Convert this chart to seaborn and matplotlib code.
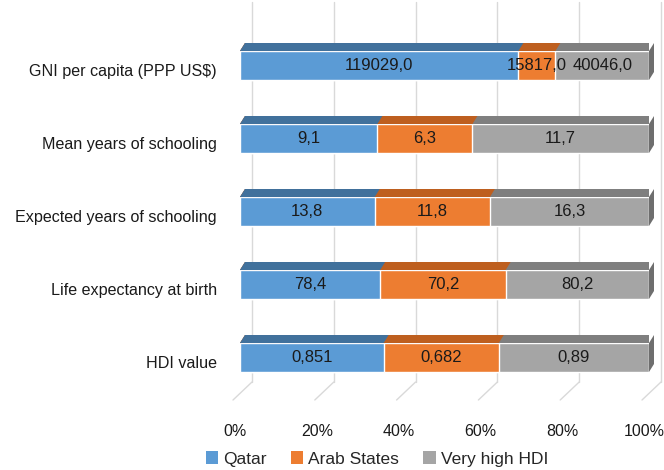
import numpy as np
import pandas as pd
import matplotlib
matplotlib.use("Agg")
import matplotlib.pyplot as plt
import matplotlib.transforms as mtransforms
from matplotlib.patches import Polygon, Patch
import seaborn as sns


# =====================
# DATA
# =====================

indicators = [
    "GNI per capita (PPP US$)",
    "Mean years of schooling",
    "Expected years of schooling",
    "Life expectancy at birth",
    "HDI value",
]
qatar = [119029.0, 9.1, 13.8, 78.4, 0.851]
arab_states = [15817.0, 6.3, 11.8, 70.2, 0.682]
very_high_hdi = [40046.0, 11.7, 16.3, 80.2, 0.89]
series_names = ["Qatar", "Arab States", "Very high HDI"]
x_ticks = [0, 20, 40, 60, 80, 100]

front_colors = ["#5B9BD5", "#ED7D31", "#A5A5A5"]
top_colors = ["#41719C", "#BE5F1F", "#7F7F7F"]
side_color = "#6E6E6E"
grid_color = "#D9D9D9"


# =====================
# PREP
# =====================

df = pd.DataFrame({
    "indicator": indicators,
    "Qatar": qatar,
    "Arab States": arab_states,
    "Very high HDI": very_high_hdi,
})
total = df[series_names].sum(axis=1)
pct = df[series_names].div(total, axis=0) * 100
cum = pct.cumsum(axis=1)
starts = cum - pct


# =====================
# PLOT
# =====================

sns.set_style("white")
plt.rcParams["font.family"] = ["Liberation Sans", "DejaVu Sans"]

W, H = 664, 470
fig = plt.figure(figsize=(W / 100, H / 100), dpi=100)
ax = fig.add_axes([240 / W, 1 - 400 / H, (649 - 240) / W, (400 - 2) / H])

bar_w = 0.397
# layered cumulative bars: widest first
for i in [2, 1, 0]:
    sns.barplot(
        x=cum[series_names[i]],
        y=df["indicator"],
        orient="h",
        color=front_colors[i],
        width=bar_w,
        saturation=1,
        ax=ax,
        zorder=3,
    )

row_spacing = 73.0
ax.set_xlim(0, 100)
y_top = -(65.5 - 2) / row_spacing
y_bot = 4 + (400 - 357.5) / row_spacing
ax.set_ylim(y_bot, y_top)

# fake 3d depth: top faces + right side face
px_x = 409 / 100.0
dx = 5 / px_x
dy = 8 / row_spacing
for r in range(len(indicators)):
    yb = r - bar_w / 2
    for i in [2, 1, 0]:
        x1 = cum.iloc[r, i]
        top = Polygon(
            [(0, yb), (dx, yb - dy), (x1 + dx, yb - dy), (x1, yb)],
            closed=True, facecolor=top_colors[i], edgecolor="none", zorder=3,
        )
        ax.add_patch(top)
    side = Polygon(
        [(100, yb), (100 + dx, yb - dy), (100 + dx, yb + bar_w - dy), (100, yb + bar_w)],
        closed=True, facecolor=side_color, edgecolor="none", zorder=3, clip_on=False,
    )
    ax.add_patch(side)

# back wall gridlines and floor lines
back_off = 12 / px_x
front_off = -7 / px_x
y_floor_back = y_top + (382 - 2) / row_spacing
for v in x_ticks:
    ax.plot([v + back_off, v + back_off], [y_top, y_floor_back],
            color=grid_color, lw=1, zorder=1, clip_on=False)
    ax.plot([v + back_off, v + front_off], [y_floor_back, y_bot],
            color=grid_color, lw=1, zorder=1, clip_on=False)

# value labels
for r in range(len(indicators)):
    for i, name in enumerate(series_names):
        val = df.loc[r, name]
        mid = starts.iloc[r, i] + pct.iloc[r, i] / 2
        ax.text(mid, r, str(val).replace(".", ","), ha="center", va="center",
                fontsize=12, color="#1A1A1A", zorder=5)

# axes cosmetics
sns.despine(ax=ax, left=True, bottom=True)
ax.set_xlabel("")
ax.set_ylabel("")
ax.set_xticks(x_ticks)
ax.set_xticklabels([f"{v}%" for v in x_ticks], fontsize=11.5, color="#1A1A1A")
ax.tick_params(axis="x", length=0, pad=17)
ax.tick_params(axis="y", length=0, pad=16.5, labelsize=11.6, labelcolor="#1A1A1A")

for lbl in ax.get_yticklabels():
    lbl.set_transform(lbl.get_transform() + mtransforms.ScaledTranslation(0, -4.5 / 100, fig.dpi_scale_trans))
for lbl in ax.get_xticklabels():
    lbl.set_transform(lbl.get_transform() + mtransforms.ScaledTranslation(-5 / 100, 0, fig.dpi_scale_trans))

handles = [Patch(facecolor=c, edgecolor="none") for c in front_colors]
fig.legend(
    handles, series_names,
    loc="center",
    bbox_to_anchor=(377 / W, 1 - 459 / H),
    ncol=3,
    frameon=False,
    fontsize=12.5,
    handlelength=0.7,
    handleheight=0.7,
    handletextpad=0.3,
    columnspacing=1.4,
    borderpad=0.1,
)

fig.savefig("out.png", dpi=100)
plt.close(fig)
